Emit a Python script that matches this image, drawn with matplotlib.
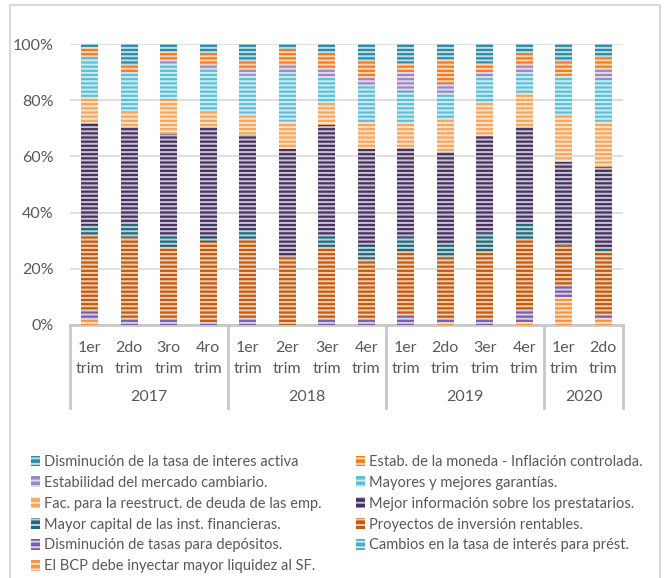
import numpy as np
import matplotlib
matplotlib.use("Agg")
import matplotlib.pyplot as plt
from matplotlib.patches import Patch, Rectangle
from matplotlib.lines import Line2D
import matplotlib.transforms as mtransforms

plt.rcParams['font.family'] = ['Lato', 'DejaVu Sans']
plt.rcParams['hatch.linewidth'] = 1.4

# categorias
quarters = ['1er\ntrim', '2do\ntrim', '3ro\ntrim', '4ro\ntrim',
            '1er\ntrim', '2er\ntrim', '3er\ntrim', '4er\ntrim',
            '1er\ntrim', '2do\ntrim', '3er\ntrim', '4er\ntrim',
            '1er\ntrim', '2do\ntrim']
years = ['2017', '2018', '2019', '2020']
year_sizes = [4, 4, 4, 2]

# series (%), de abajo hacia arriba
bcp_liquidez = [2.0, 0, 0, 0, 0, 0, 0, 0, 0, 0.6, 0, 1.0, 10.1, 2.4]
cambios_tasa = [0, 0, 0, 0, 0, 0, 0, 0, 0, 0, 0, 0, 0, 0]
dism_depositos = [2.6, 1.8, 1.8, 1.5, 2.7, 0, 1.8, 2.0, 3.2, 1.2, 1.8, 4.6, 4.1, 1.8]
proyectos = [27.4, 29.4, 26.1, 28.2, 27.8, 24.1, 25.5, 21.4, 22.9, 22.5, 24.3, 24.6, 14.3, 22.3]
mayor_capital = [3.6, 5.0, 4.1, 1.1, 3.3, 0, 4.7, 4.7, 5.1, 4.5, 6.5, 6.2, 0, 0.4]
mejor_info = [36.4, 34.4, 36.0, 39.8, 33.8, 38.4, 39.2, 34.4, 31.7, 32.9, 34.7, 33.9, 29.6, 29.4]
fac_reestruct = [8.7, 5.3, 12.1, 5.3, 7.1, 10.2, 7.9, 9.9, 9.1, 11.5, 11.8, 12.1, 16.3, 16.4]
garantias = [14.2, 13.7, 13.3, 14.8, 14.3, 16.6, 9.3, 12.7, 11.0, 9.2, 8.7, 7.2, 14.6, 14.5]
estab_cambiaria = [0.5, 0.6, 0.9, 1.8, 2.0, 3.2, 2.9, 3.0, 7.2, 3.8, 2.4, 2.9, 0, 3.8]
estab_moneda = [3.4, 2.3, 3.0, 4.2, 3.1, 5.6, 5.6, 6.0, 2.9, 8.3, 2.9, 4.2, 5.1, 4.3]
dism_activa = [1.2, 7.5, 2.7, 3.3, 5.9, 1.9, 3.1, 5.9, 6.9, 5.5, 6.9, 3.3, 5.9, 4.7]

names = ['Disminución de la tasa de interes activa',
         'Estab. de la moneda - Inflación controlada.',
         'Estabilidad del mercado cambiario.',
         'Mayores y mejores garantías.',
         'Fac. para la reestruct. de deuda de las emp.',
         'Mejor información sobre los prestatarios.',
         'Mayor capital de las inst. financieras.',
         'Proyectos de inversión rentables.',
         'Disminución de tasas para depósitos.',
         'Cambios en la tasa de interés para prést.',
         'El BCP debe inyectar mayor liquidez al SF.']
series = [dism_activa, estab_moneda, estab_cambiaria, garantias, fac_reestruct,
          mejor_info, mayor_capital, proyectos, dism_depositos, cambios_tasa, bcp_liquidez]
colors = ['#2A8CA8', '#F57B1C', '#9C88C2', '#5EBFD6', '#F9A55A',
          '#463262', '#22697A', '#C45A0C', '#7A5FA6', '#4BACC6', '#F79443']

gray = '#595959'
line_gray = '#C8C8C8'

fig = plt.figure(figsize=(6.68, 5.78), dpi=100)
ax = fig.add_axes([70/668, 1-325/578, 553/668, 281/578])

x = np.arange(len(quarters))
bottom = np.zeros(len(quarters))
handles = {}
# apilar desde la ultima serie (abajo) hasta la primera (arriba)
for name, vals, c in reversed(list(zip(names, series, colors))):
    vals = np.array(vals, dtype=float)
    ax.bar(x, vals, bottom=bottom, width=0.43, color=c, hatch='----',
           edgecolor=(1, 1, 1, 0.7), linewidth=0, zorder=3)
    bottom += vals
    handles[name] = Patch(facecolor=c, hatch='---', edgecolor=(1, 1, 1, 0.7), linewidth=0)

ax.set_xlim(-0.5, len(quarters) - 0.5)
ax.set_ylim(0, 100)
ax.set_yticks(np.arange(0, 101, 20))
ax.set_yticklabels([f'{v}%' for v in range(0, 101, 20)], fontsize=11.5, color=gray)
ax.tick_params(axis='y', length=0, pad=12)
ax.set_xticks([])
ax.yaxis.grid(True, color='#D9D9D9', linewidth=1.2, zorder=0)
for s in ['left', 'right', 'top']:
    ax.spines[s].set_visible(False)
ax.spines['bottom'].set_color(line_gray)
ax.spines['bottom'].set_linewidth(2)

# etiquetas multinivel
trans = mtransforms.blended_transform_factory(ax.transData, ax.transAxes)
for i, q in enumerate(quarters):
    ax.text(i, -0.058, q, transform=trans, ha='center', va='top',
            fontsize=11.5, color=gray, linespacing=1.6)
edges = np.concatenate([[0], np.cumsum(year_sizes)]) - 0.5
for k, y in enumerate(years):
    ax.text((edges[k] + edges[k+1]) / 2, -0.255, y, transform=trans,
            ha='center', va='center', fontsize=11.5, color=gray)
for e in edges:
    ax.add_line(Line2D([e, e], [0, -0.295], transform=trans, color=line_gray,
                       linewidth=2, clip_on=False))

# marco del grafico
fig.patches.append(Rectangle((10/668, -0.05), 650/668, 1.05 - 5/578,
                             transform=fig.transFigure, fill=False,
                             edgecolor='#D9D9D9', linewidth=1.5))

# leyenda en dos columnas
col1 = names[0::2]
col2 = names[1::2]
for col, x0 in [(col1, 31), (col2, 356)]:
    leg = fig.legend([handles[n] for n in col], col, loc='upper left',
                     bbox_to_anchor=(x0/668, 1-455/578), frameon=False,
                     fontsize=10.5, borderpad=0, handlelength=0.6,
                     handleheight=0.75, handletextpad=0.3, labelspacing=0.47,
                     borderaxespad=0)
    for t in leg.get_texts():
        t.set_color(gray)

fig.savefig('out.png', dpi=100)
